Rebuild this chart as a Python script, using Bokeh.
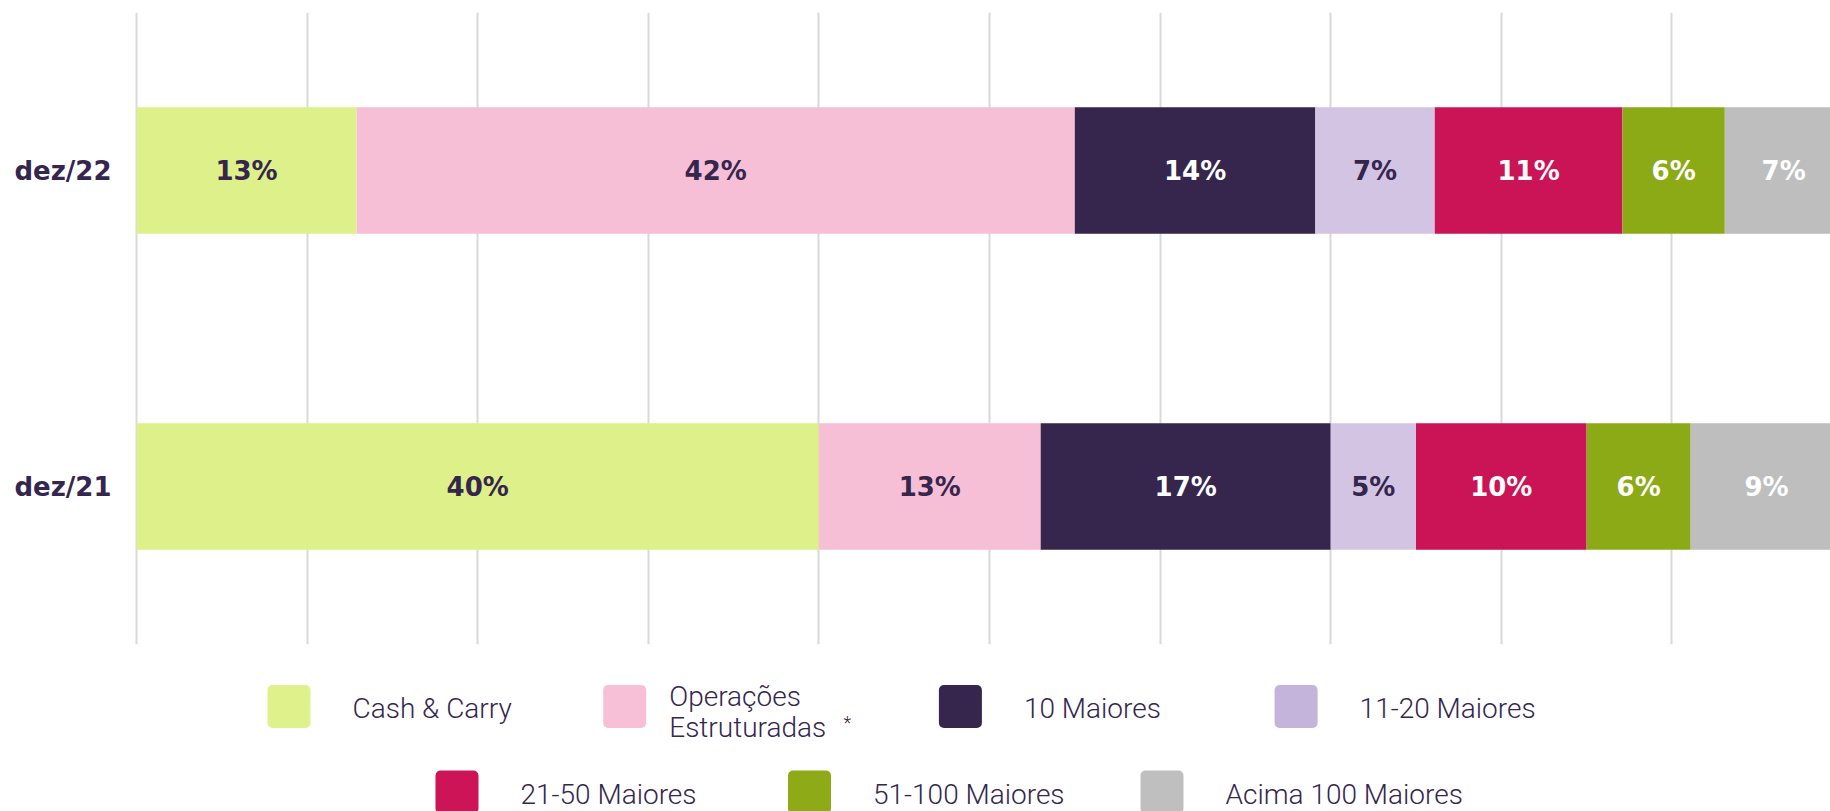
import numpy as np
from bokeh.plotting import figure
from bokeh.models import ColumnDataSource, FactorRange, Range1d, FixedTicker
from bokeh.layouts import column
from bokeh.embed import file_html
from bokeh.resources import INLINE
from bokeh.core.properties import value

# ---------------- data ----------------
periods = ["dez/21", "dez/22"]
series = ["Cash & Carry", "Operações Estruturadas", "10 Maiores", "11-20 Maiores",
          "21-50 Maiores", "51-100 Maiores", "Acima 100 Maiores"]
dez22 = [12.9, 42.1, 14.1, 7.0, 11.0, 6.0, 6.9]
dez21 = [40.0, 13.0, 17.0, 5.0, 10.0, 6.1, 8.9]
grid_ticks = [0, 10, 20, 30, 40, 50, 60, 70, 80, 90, 100]

# ---------------- style ----------------
DARK = "#35264e"
bar_colors = ["#def08a", "#f7bfd5", "#36264e", "#d2c4e2", "#cb1455", "#8caa16", "#bebebe"]
swatch_colors = ["#dff18a", "#f8c0d6", "#36264e", "#c4b3da", "#cc1456", "#8eaa16", "#bfbfbf"]
label_colors = [DARK, DARK, "white", DARK, "white", "white", "white"]

W = 1830
LEFT = 134
H_MAIN = 658
H_LEG = 153
PX_PER_PCT = 17.06
X0 = -2 / PX_PER_PCT  # small pad so the 0 grid line is fully visible

values = {"dez/21": dez21, "dez/22": dez22}
data = {"period": periods}
for i, s in enumerate(series):
    data[s] = [values[pd][i] for pd in periods]
src = ColumnDataSource(data)

p = figure(width=W, height=H_MAIN, y_range=FactorRange(*periods),
           x_range=Range1d(X0, X0 + (W - LEFT) / PX_PER_PCT),
           output_backend="svg", toolbar_location=None,
           min_border_left=LEFT, min_border_right=0, min_border_top=12, min_border_bottom=14)

p.hbar_stack(series, y="period", height=0.4, color=bar_colors, line_color=None, source=src)

# value labels at segment centres
lx, ly, lt, lc = [], [], [], []
for pd in periods:
    vals = np.array(values[pd])
    right = np.cumsum(vals)
    left = right - vals
    for i, v in enumerate(vals):
        lx.append((left[i] + right[i]) / 2)
        ly.append(pd)
        lt.append(f"{int(round(v))}%")
        lc.append(label_colors[i])
p.text(x="x", y="y", text="t", text_color="c", source=ColumnDataSource(dict(x=lx, y=ly, t=lt, c=lc)),
       text_align="center", text_baseline="middle", text_font=value("DejaVu Sans"),
       text_font_style="bold", text_font_size="26px")

p.xaxis.visible = False
p.yaxis.axis_line_color = None
p.yaxis.major_tick_line_color = None
p.yaxis.minor_tick_line_color = None
p.yaxis.major_tick_out = 0
p.yaxis.major_label_standoff = 23
p.yaxis.major_label_text_font = "DejaVu Sans"
p.yaxis.major_label_text_font_style = "bold"
p.yaxis.major_label_text_font_size = "26px"
p.yaxis.major_label_text_color = DARK
p.ygrid.grid_line_color = None
p.xgrid.ticker = FixedTicker(ticks=grid_ticks)
p.xgrid.grid_line_color = "#d9d9d9"
p.xgrid.grid_line_width = 2
p.outline_line_color = None

# ---------------- legend (page-pixel coordinates) ----------------
lg = figure(width=W, height=H_LEG, x_range=Range1d(LEFT, W), y_range=Range1d(H_MAIN + H_LEG, H_MAIN),
            output_backend="svg", toolbar_location=None,
            min_border_left=LEFT, min_border_right=0, min_border_top=0, min_border_bottom=0)
lg.axis.visible = False
lg.grid.grid_line_color = None
lg.outline_line_color = None

row_y = [706, 791.5]
row_text_y = [708, 794]
row_x0 = [267, 435]
row_step = [335.7, 352.5]
SW = 43
sl, sr, st, sb = [], [], [], []
tx, ty, tt = [], [], []
for i, s in enumerate(series):
    r = 0 if i < 4 else 1
    k = i if r == 0 else i - 4
    x0 = row_x0[r] + k * row_step[r]
    yc = row_y[r]
    sl.append(x0); sr.append(x0 + SW); st.append(yc - SW / 2); sb.append(yc + SW / 2)
    if s == "Operações Estruturadas":
        w1, w2 = s.split(" ")
        tx += [x0 + 66, x0 + 66]; ty += [yc - 10, yc + 21]; tt += [w1, w2]
    else:
        tx.append(x0 + 85); ty.append(row_text_y[r]); tt.append(s)

lg.quad(left=sl, right=sr, top=st, bottom=sb, color=swatch_colors, line_color=None, border_radius=5)
lg.text(x=tx, y=ty, text=tt, text_color=DARK, text_align="left", text_baseline="middle",
        text_font=value("Roboto Light"), text_font_size="28px")
lg.text(x=[843], y=[722], text=["*"], text_color=DARK, text_align="left", text_baseline="middle",
        text_font=value("Roboto Light"), text_font_size="18px")

layout = column(p, lg, spacing=0)
open("out.html", "w").write(file_html(layout, INLINE))
